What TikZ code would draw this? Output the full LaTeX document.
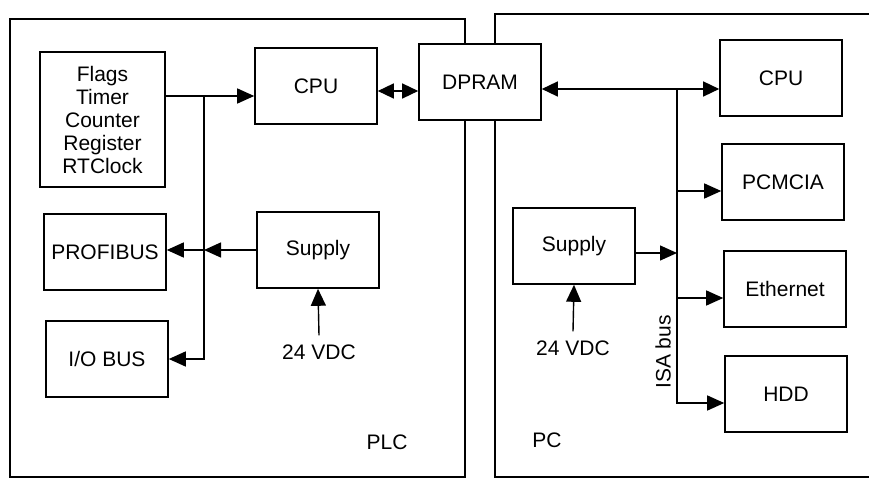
\documentclass[tikz,border=0pt]{standalone}
\usepackage{fontspec}
\setmainfont{Liberation Sans}
\usetikzlibrary{arrows.meta, calc}

\begin{document}
\begin{tikzpicture}[
    x=1pt, y=-1pt,
    every node/.style={font=\fontsize{21}{23}\selectfont},
    box/.style={rectangle, draw, fill=white, line width=1.6pt,
                minimum width=122pt, minimum height=76pt, inner sep=2pt},
    lab/.style={inner sep=2pt},
    frame/.style={line width=1.6pt},
    wire/.style={line width=1.4pt},
    arr/.style={-{Triangle[length=17pt, width=15pt]}, line width=1.4pt},
    biarr/.style={{Triangle[length=16pt, width=15pt]}-{Triangle[length=16pt, width=15pt]}, line width=1.4pt},
]
\useasboundingbox (0,0) rectangle (869,481);

% the two housings
\draw[frame] (10,19) rectangle (465,477);
\draw[frame] (869,14) -- (495,14) -- (495,477) -- (869,477);

% PLC side
\node[box, minimum width=125pt, minimum height=135pt, align=center] (flags) at (102.5,119.5)
    {Flags\\Timer\\Counter\\Register\\RTClock};
\node[box] (plccpu) at (316,86) {CPU};
\node[box] (plcsup) at (318,250) {Supply};
\node[box] (profibus) at (105,252) {PROFIBUS};
\node[box] (iobus) at (107,359) {I/O BUS};
\node[lab] (plcvdc) at (319,352) {24 VDC};
\node[lab] (plclab) at (387,442) {PLC};

% shared memory
\node[box] (dpram) at (480,82) {DPRAM};

% PC side
\node[box] (pccpu) at (781,78) {CPU};
\node[box] (pcmcia) at (783,182) {PCMCIA};
\node[box] (pcsup) at (574,246) {Supply};
\node[box] (ether) at (785,289) {Ethernet};
\node[box] (hdd) at (786,394) {HDD};
\node[lab] (pcvdc) at (573,348) {24 VDC};
\node[lab, rotate=90] (isalab) at (663,352) {ISA bus};
\node[lab] (pclab) at (547,440) {PC};

\coordinate (plcbus) at (204,96);
\coordinate (link) at (398,91);
\coordinate (isabus) at (677,89);

% PLC wiring
\draw[arr] (flags.east |- plcbus) -- (plccpu.west |- plcbus);
\draw[arr] (plcbus) |- (iobus.east);
\draw[arr] (plcsup.west) -- (plcbus |- plcsup.west);
\draw[arr] (plcbus |- plcsup.west) -- (profibus.east |- plcsup.west);
\draw[arr] ([yshift=7pt]plcvdc.north) -- (plcsup.south);
\draw[biarr] (plccpu.east |- link) -- (dpram.west |- link);

% PC wiring
\draw[biarr] (dpram.east |- isabus) -- (pccpu.west |- isabus);
\foreach \n in {pcmcia, ether}{
    \coordinate (tap) at ($(\n.west)+(0,9)$);
    \draw[arr] (isabus |- tap) -- (tap);
}
\draw[arr] (isabus) |- ($(hdd.west)+(0,9)$);
\coordinate (feed) at ($(pcsup.east)+(0,7)$);
\draw[arr] (feed) -- (isabus |- feed);
\draw[arr] ([yshift=7pt]pcvdc.north) -- (pcsup.south);
\end{tikzpicture}
\end{document}
